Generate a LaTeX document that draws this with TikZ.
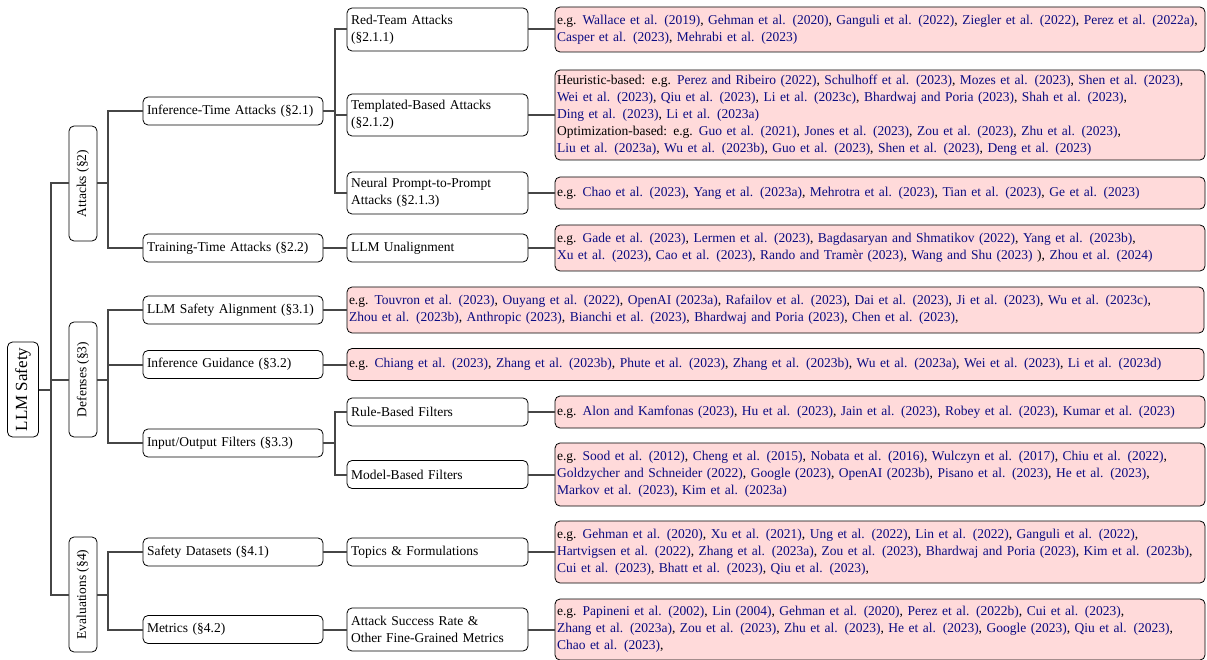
\documentclass[tikz,border=0pt]{standalone}
\usepackage{fontspec}
\setmainfont{Liberation Serif}
\usetikzlibrary{calc}
\definecolor{citeblue}{RGB}{12,12,130}
\definecolor{pinkfill}{RGB}{255,218,218}
\definecolor{linegray}{RGB}{70,70,70}
\newcommand{\ct}[1]{\textcolor{citeblue}{#1}}
\newcommand{\eg}{e.g.\hspace{0.45em}}
\begin{document}
\begin{tikzpicture}[x=1pt,y=-1pt,
  font=\fontsize{13.5}{17}\selectfont,
  box/.style={draw=black, line width=0.8pt, rounded corners=5pt, fill=white,
              inner xsep=4pt, inner ysep=1pt, align=left},
  vbox/.style={box, rotate=90, align=center, minimum width=115pt, minimum height=28pt},
  lvtwo/.style={box, minimum width=180pt, text width=172pt, minimum height=28pt},
  lvthree/.style={box, minimum width=181pt, text width=173pt},
  pbox/.style={box, fill=pinkfill, inner xsep=2pt, text width=646pt},
  wbox/.style={box, fill=pinkfill, inner xsep=2pt, text width=853pt},
  conn/.style={draw=linegray, line width=2pt}
]
\useasboundingbox (0,0) rectangle (1207,660);

% connectors are drawn first (under the boxes) via named coordinates after nodes; nodes below
% root and level 1
\node[box, rotate=90, align=center, minimum width=95pt, minimum height=31pt,
      font=\fontsize{17}{20}\selectfont] (root) at (23,389.5) {LLM Safety};
\node[vbox] (att) at (83,183.5) {Attacks (§2)};
\node[vbox] (def) at (83,379.5) {Defenses (§3)};
\node[vbox] (eva) at (83,594.5) {Evaluations (§4)};

% level 2
\node[lvtwo] (inf) at (233,111) {Inference-Time Attacks (§2.1)};
\node[lvtwo] (trn) at (233,248) {Training-Time Attacks (§2.2)};
\node[lvtwo] (lsa) at (233,310) {LLM Safety Alignment (§3.1)};
\node[lvtwo] (ig)  at (233,364.5) {Inference Guidance (§3.2)};
\node[lvtwo] (iof) at (233,443) {Input/Output Filters (§3.3)};
\node[lvtwo] (sd)  at (233,552) {Safety Datasets (§4.1)};
\node[lvtwo] (met) at (233,629.5) {Metrics (§4.2)};

% level 3
\node[lvthree, minimum height=43pt] (rt) at (437.5,29.5) {Red-Team Attacks\\(§2.1.1)};
\node[lvthree, minimum height=42pt] (tb) at (437.5,115) {Templated-Based Attacks\\(§2.1.2)};
\node[lvthree, minimum height=42pt] (np) at (437.5,193) {Neural Prompt-to-Prompt\\Attacks (§2.1.3)};
\node[lvthree, minimum height=28pt] (un) at (437.5,248) {LLM Unalignment};
\node[lvthree, minimum height=28pt] (rb) at (437.5,412) {Rule-Based Filters};
\node[lvthree, minimum height=28pt] (mb) at (437.5,474.5) {Model-Based Filters};
\node[lvthree, minimum height=28pt] (tf) at (437.5,552) {Topics \& Formulations};
\node[lvthree, minimum height=43pt] (asr) at (437.5,629.5) {Attack Success Rate \&\\Other Fine-Grained Metrics};

% pink leaves
\node[pbox, minimum height=45pt] (p1) at (880,29.5) {\eg\ct{Wallace et al. (2019)}, \ct{Gehman et al. (2020)}, \ct{Ganguli et al. (2022)}, \ct{Ziegler et al. (2022)}, \ct{Perez et al. (2022a)},\\
\ct{Casper et al. (2023)}, \ct{Mehrabi et al. (2023)}};
\node[pbox, minimum height=90pt] (p2) at (880,115) {Heuristic-based:\hspace{0.45em}\eg\ct{Perez and Ribeiro (2022)}, \ct{Schulhoff et al. (2023)}, \ct{Mozes et al. (2023)}, \ct{Shen et al. (2023)},\\
\ct{Wei et al. (2023)}, \ct{Qiu et al. (2023)}, \ct{Li et al. (2023c)}, \ct{Bhardwaj and Poria (2023)}, \ct{Shah et al. (2023)},\\
\ct{Ding et al. (2023)}, \ct{Li et al. (2023a)}\\
Optimization-based:\hspace{0.45em}\eg\ct{Guo et al. (2021)}, \ct{Jones et al. (2023)}, \ct{Zou et al. (2023)}, \ct{Zhu et al. (2023)},\\
\ct{Liu et al. (2023a)}, \ct{Wu et al. (2023b)}, \ct{Guo et al. (2023)}, \ct{Shen et al. (2023)}, \ct{Deng et al. (2023)}};
\node[pbox, minimum height=32pt] (p3) at (880,193) {\eg\ct{Chao et al. (2023)}, \ct{Yang et al. (2023a)}, \ct{Mehrotra et al. (2023)}, \ct{Tian et al. (2023)}, \ct{Ge et al. (2023)}};
\node[pbox, minimum height=46pt] (p4) at (880,248) {\eg\ct{Gade et al. (2023)}, \ct{Lermen et al. (2023)}, \ct{Bagdasaryan and Shmatikov (2022)}, \ct{Yang et al. (2023b)},\\
\ct{Xu et al. (2023)}, \ct{Cao et al. (2023)}, \ct{Rando and Tramèr (2023)}, \ct{Wang and Shu (2023)} ), \ct{Zhou et al. (2024)}};
\node[wbox, minimum height=46pt] (p5) at (775.5,310) {\eg\ct{Touvron et al. (2023)}, \ct{Ouyang et al. (2022)}, \ct{OpenAI (2023a)}, \ct{Rafailov et al. (2023)}, \ct{Dai et al. (2023)}, \ct{Ji et al. (2023)}, \ct{Wu et al. (2023c)},\\
\ct{Zhou et al. (2023b)}, \ct{Anthropic (2023)}, \ct{Bianchi et al. (2023)}, \ct{Bhardwaj and Poria (2023)}, \ct{Chen et al. (2023)},};
\node[wbox, minimum height=32pt] (p6) at (775.5,364.5) {\eg\ct{Chiang et al. (2023)}, \ct{Zhang et al. (2023b)}, \ct{Phute et al. (2023)}, \ct{Zhang et al. (2023b)}, \ct{Wu et al. (2023a)}, \ct{Wei et al. (2023)}, \ct{Li et al. (2023d)}};
\node[pbox, minimum height=32pt] (p7) at (880,412) {\eg\ct{Alon and Kamfonas (2023)}, \ct{Hu et al. (2023)}, \ct{Jain et al. (2023)}, \ct{Robey et al. (2023)}, \ct{Kumar et al. (2023)}};
\node[pbox, minimum height=63pt] (p8) at (880,474.5) {\eg\ct{Sood et al. (2012)}, \ct{Cheng et al. (2015)}, \ct{Nobata et al. (2016)}, \ct{Wulczyn et al. (2017)}, \ct{Chiu et al. (2022)},\\
\ct{Goldzycher and Schneider (2022)}, \ct{Google (2023)}, \ct{OpenAI (2023b)}, \ct{Pisano et al. (2023)}, \ct{He et al. (2023)},\\
\ct{Markov et al. (2023)}, \ct{Kim et al. (2023a)}};
\node[pbox, minimum height=62pt] (p9) at (880,552) {\eg\ct{Gehman et al. (2020)}, \ct{Xu et al. (2021)}, \ct{Ung et al. (2022)}, \ct{Lin et al. (2022)}, \ct{Ganguli et al. (2022)},\\
\ct{Hartvigsen et al. (2022)}, \ct{Zhang et al. (2023a)}, \ct{Zou et al. (2023)}, \ct{Bhardwaj and Poria (2023)}, \ct{Kim et al. (2023b)},\\
\ct{Cui et al. (2023)}, \ct{Bhatt et al. (2023)}, \ct{Qiu et al. (2023)},};
\node[pbox, minimum height=61pt] (p10) at (880,629.5) {\eg\ct{Papineni et al. (2002)}, \ct{Lin (2004)}, \ct{Gehman et al. (2020)}, \ct{Perez et al. (2022b)}, \ct{Cui et al. (2023)},\\
\ct{Zhang et al. (2023a)}, \ct{Zou et al. (2023)}, \ct{Zhu et al. (2023)}, \ct{He et al. (2023)}, \ct{Google (2023)}, \ct{Qiu et al. (2023)},\\
\ct{Chao et al. (2023)},};

% connectors
\draw[conn] (root.south) -- ++(12,0) |- (att.north);
\draw[conn] (root.south) -- ++(12,0) |- (def.north);
\draw[conn] (root.south) -- ++(12,0) |- (eva.north);
\draw[conn] (att.south) -- ++(11,0) |- (inf.west);
\draw[conn] (att.south) -- ++(11,0) |- (trn.west);
\draw[conn] (def.south) -- ++(11,0) |- (lsa.west);
\draw[conn] (def.south) -- ++(11,0) |- (ig.west);
\draw[conn] (def.south) -- ++(11,0) |- (iof.west);
\draw[conn] (eva.south) -- ++(11,0) |- (sd.west);
\draw[conn] (eva.south) -- ++(11,0) |- (met.west);
\draw[conn] (inf.east) -- ++(12,0) |- (rt.west);
\draw[conn] (inf.east) -- ++(12,0) |- (tb.west);
\draw[conn] (inf.east) -- ++(12,0) |- (np.west);
\draw[conn] (trn.east) -- (un.west);
\draw[conn] (iof.east) -- ++(12,0) |- (rb.west);
\draw[conn] (iof.east) -- ++(12,0) |- (mb.west);
\draw[conn] (sd.east) -- (tf.west);
\draw[conn] (met.east) -- (asr.west);
\draw[conn] (lsa.east) -- (p5.west);
\draw[conn] (ig.east) -- (p6.west);
\draw[conn] (rt.east) -- (p1.west);
\draw[conn] (tb.east) -- (p2.west);
\draw[conn] (np.east) -- (p3.west);
\draw[conn] (un.east) -- (p4.west);
\draw[conn] (rb.east) -- (p7.west);
\draw[conn] (mb.east) -- (p8.west);
\draw[conn] (tf.east) -- (p9.west);
\draw[conn] (asr.east) -- (p10.west);
\end{tikzpicture}
\end{document}
